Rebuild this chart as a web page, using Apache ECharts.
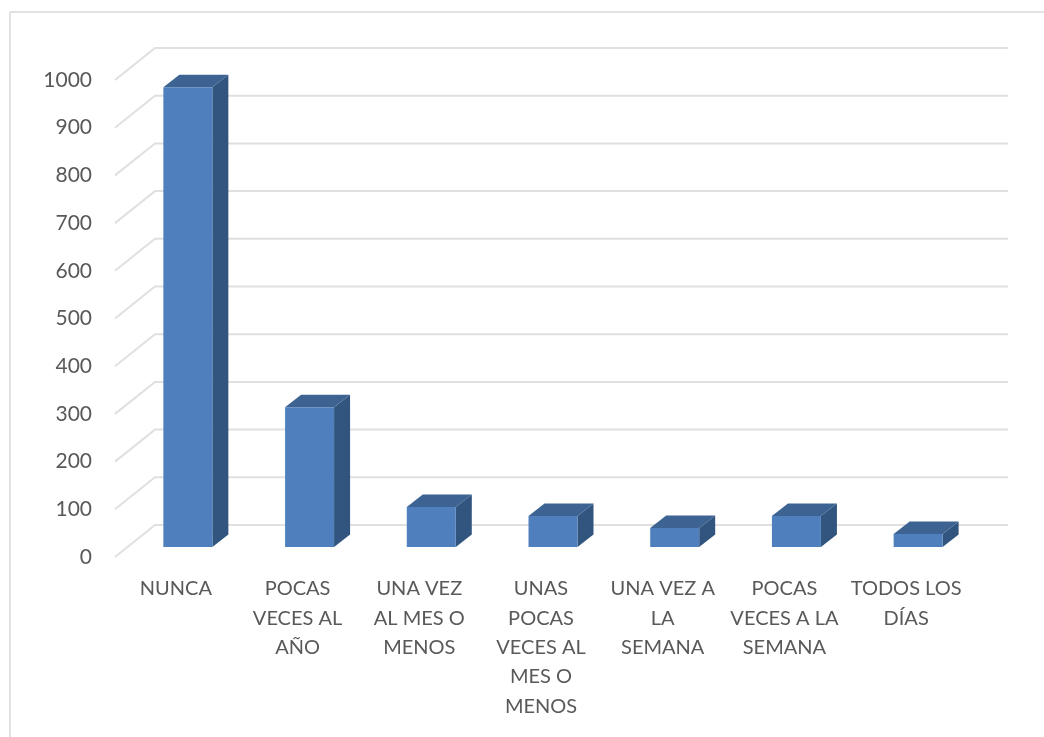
<!DOCTYPE html>
<html>
<head>
<meta charset="utf-8">
<style>html,body{margin:0;padding:0;background:#fff}#c{width:1044px;height:737px}</style>
<script src="https://cdn.jsdelivr.net/npm/echarts@6/dist/echarts.min.js"></script>
</head>
<body>
<div id="c"></div>
<script>
const categories = ['NUNCA','POCAS\nVECES AL\nAÑO','UNA VEZ\nAL MES O\nMENOS','UNAS\nPOCAS\nVECES AL\nMES O\nMENOS','UNA VEZ A\nLA\nSEMANA','POCAS\nVECES A LA\nSEMANA','TODOS LOS\nDÍAS'];
const values = [964, 293, 84, 65, 40, 65, 27];
const gridTicks = [0,100,200,300,400,500,600,700,800,900,1000];

const wallDX = 40, wallDY = -32;
const barOffX = 12, barOffY = -10, barDepthX = 16, barDepthY = -12.5, barW = 49;
const FRONT = '#4f80bd', TOP = '#3c6391', SIDE = '#32557f';

const chart = echarts.init(document.getElementById('c'));
chart.setOption({
  animation: false,
  backgroundColor: '#fff',
  textStyle: {fontFamily: 'Lato'},
  graphic: [
    {type:'line', silent:true, shape:{x1:10,y1:12,x2:1044,y2:12}, style:{stroke:'#d9d9d9',lineWidth:1.5}},
    {type:'line', silent:true, shape:{x1:10,y1:12,x2:10,y2:737}, style:{stroke:'#d9d9d9',lineWidth:1.5}}
  ],
  grid: {left:115, right:77, top:80, bottom:180, containLabel:false},
  xAxis: {
    type:'category', data:categories,
    axisLine:{show:false}, axisTick:{show:false}, splitLine:{show:false},
    axisLabel:{interval:0, color:'#595959', fontSize:20, fontFamily:'Lato', lineHeight:29.4, margin:17, align:'center', verticalAlign:'top'}
  },
  yAxis: {
    type:'value', min:0, max:1000, interval:100,
    axisLine:{show:false}, axisTick:{show:false}, splitLine:{show:false},
    axisLabel:{color:'#595959', fontSize:21, fontFamily:'Lato', margin:23, padding:[6,0,0,0], formatter:(v)=>String(v)}
  },
  series: [
    {
      type:'custom', clip:false, silent:true, z:1,
      data: gridTicks.map(v => [0, v]),
      encode:{x:0, y:1},
      renderItem(params, api){
        const cs = params.coordSys;
        const y = api.coord([0, api.value(1)])[1];
        return {type:'polyline', silent:true,
          shape:{points:[[cs.x, y],[cs.x+wallDX, y+wallDY],[cs.x+cs.width+wallDX+1, y+wallDY]]},
          style:{fill:null, stroke:'#e0e0e0', lineWidth:2}};
      }
    },
    {
      type:'custom', clip:false, silent:true, z:2,
      data: values.map((v,i) => [i, v]),
      encode:{x:0, y:1},
      renderItem(params, api){
        const top = api.coord([api.value(0), api.value(1)]);
        const base = api.coord([api.value(0), 0]);
        const x0 = top[0] + barOffX - barW/2, x1 = x0 + barW;
        const yT = top[1] + barOffY, yB = base[1] + barOffY;
        const dx = barDepthX, dy = barDepthY;
        return {type:'group', children:[
          {type:'polygon', silent:true, shape:{points:[[x1,yT],[x1+dx,yT+dy],[x1+dx,yB+dy],[x1,yB]]}, style:{fill:SIDE}},
          {type:'polygon', silent:true, shape:{points:[[x0,yT],[x0+dx,yT+dy],[x1+dx,yT+dy],[x1,yT]]}, style:{fill:TOP}},
          {type:'rect', silent:true, shape:{x:x0,y:yT,width:barW,height:yB-yT}, style:{fill:FRONT}}
        ]};
      }
    }
  ]
});
</script>
</body>
</html>
